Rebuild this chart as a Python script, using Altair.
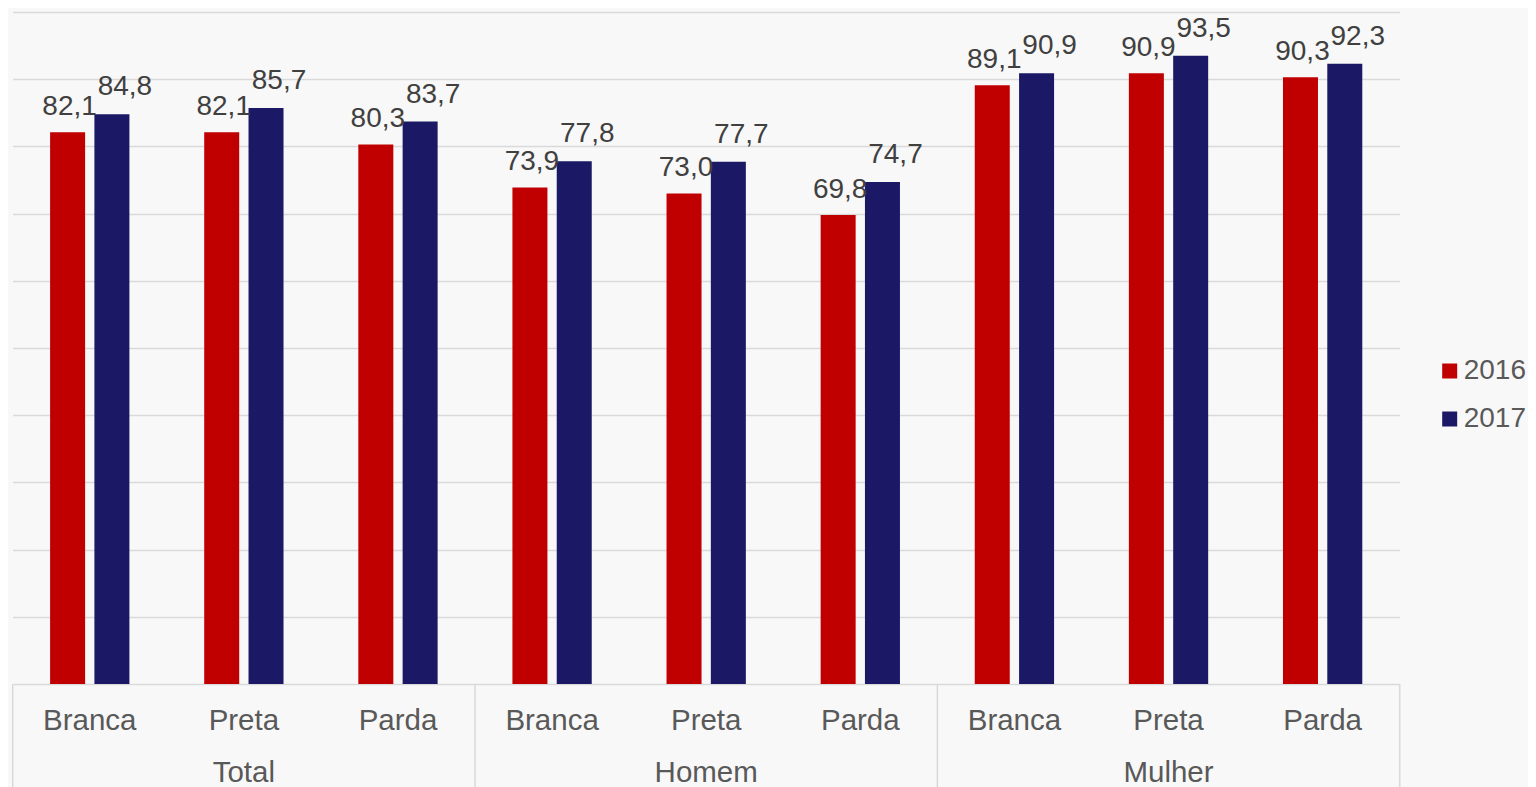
import altair as alt
import pandas as pd

groups = ["Total", "Homem", "Mulher"]
races = ["Branca", "Preta", "Parda"]
years = ["2016", "2017"]
v2016 = [82.1, 82.1, 80.3, 73.9, 73.0, 69.8, 89.1, 90.9, 90.3]
v2017 = [84.8, 85.7, 83.7, 77.8, 77.7, 74.7, 90.9, 93.5, 92.3]
colors = ["#c00000", "#1b1966"]

cat_ids = [f"{g}|{r}" for g in groups for r in races]

rows = []
for i, cid in enumerate(cat_ids):
    g, r = cid.split("|")
    for y, vals in zip(years, [v2016, v2017]):
        v = vals[i]
        rows.append({"cat": cid, "grupo": g, "raca": r, "ano": y, "valor": v,
                     "rotulo": f"{v:.1f}".replace(".", ",")})
df = pd.DataFrame(rows)

df_cats = pd.DataFrame({"cat": cat_ids, "raca": [c.split("|")[1] for c in cat_ids]})
df_groups = pd.DataFrame({"cat": [f"{g}|{races[1]}" for g in groups], "grupo": groups})
df_bounds = pd.DataFrame({"cat": [f"{g}|{races[0]}" for g in groups]})
df_end = pd.DataFrame({"cat": [cat_ids[-1]]})

FONT = "Liberation Sans"
xscale = alt.Scale(domain=cat_ids, paddingInner=0, paddingOuter=0)
xoff = alt.XOffset("ano:N", scale=alt.Scale(domain=years, paddingInner=0.21, paddingOuter=0.844))
yscale = alt.Scale(domain=[0, 100], nice=False)

base = alt.Chart(df)

bars = base.mark_bar().encode(
    x=alt.X("cat:N", scale=xscale, axis=None),
    xOffset=xoff,
    y=alt.Y("valor:Q", scale=yscale,
            axis=alt.Axis(values=list(range(0, 101, 10)), labels=False, ticks=False,
                          domain=False, title=None, grid=True, gridColor="#d9d9d9",
                          gridWidth=1.5)),
    color=alt.Color("ano:N", scale=alt.Scale(domain=years, range=colors),
                    legend=alt.Legend(title=None, orient="none", legendX=1423, legendY=345,
                                      symbolType="square", symbolSize=225,
                                      symbolStrokeWidth=0, labelFontSize=28,
                                      labelFont=FONT, labelColor="#595959",
                                      rowPadding=20, labelOffset=0, padding=0, offset=0)),
)

lab16 = base.transform_filter(alt.datum.ano == "2016").mark_text(
    font=FONT, fontSize=28, color="#404040", baseline="alphabetic", dx=2, dy=-17
).encode(x=alt.X("cat:N", scale=xscale, axis=None), xOffset=xoff,
         y=alt.Y("valor:Q", scale=yscale), text="rotulo:N")

lab17 = base.transform_filter(alt.datum.ano == "2017").mark_text(
    font=FONT, fontSize=28, color="#404040", baseline="alphabetic", dx=13, dy=-19
).encode(x=alt.X("cat:N", scale=xscale, axis=None), xOffset=xoff,
         y=alt.Y("valor:Q", scale=yscale), text="rotulo:N")

cat_labels = alt.Chart(df_cats).mark_text(
    font=FONT, fontSize=29.5, color="#595959", baseline="alphabetic"
).encode(x=alt.X("cat:N", scale=xscale, axis=None), y=alt.value(718), text="raca:N")

grp_labels = alt.Chart(df_groups).mark_text(
    font=FONT, fontSize=29.5, color="#595959", baseline="alphabetic"
).encode(x=alt.X("cat:N", scale=xscale, axis=None), y=alt.value(770), text="grupo:N")

bound_rules = alt.Chart(df_bounds).mark_rule(color="#d9d9d9", strokeWidth=1.5).encode(
    x=alt.X("cat:N", scale=xscale, axis=None, bandPosition=0),
    y=alt.value(672), y2=alt.value(780))

end_rule = alt.Chart(df_end).mark_rule(color="#d9d9d9", strokeWidth=1.5).encode(
    x=alt.X("cat:N", scale=xscale, axis=None, bandPosition=1),
    y=alt.value(672), y2=alt.value(780))

chart = alt.layer(bars, lab16, lab17, cat_labels, grp_labels, bound_rules, end_rule).properties(
    width=1387, height=672,
    autosize=alt.AutoSizeParams(type="none"),
    padding={"left": 4.7, "top": 4, "right": 128, "bottom": 103},
    background="#f8f8f8",
).configure_view(stroke=None)

chart.save("out.html", embed_options={"renderer": "svg", "actions": False})
